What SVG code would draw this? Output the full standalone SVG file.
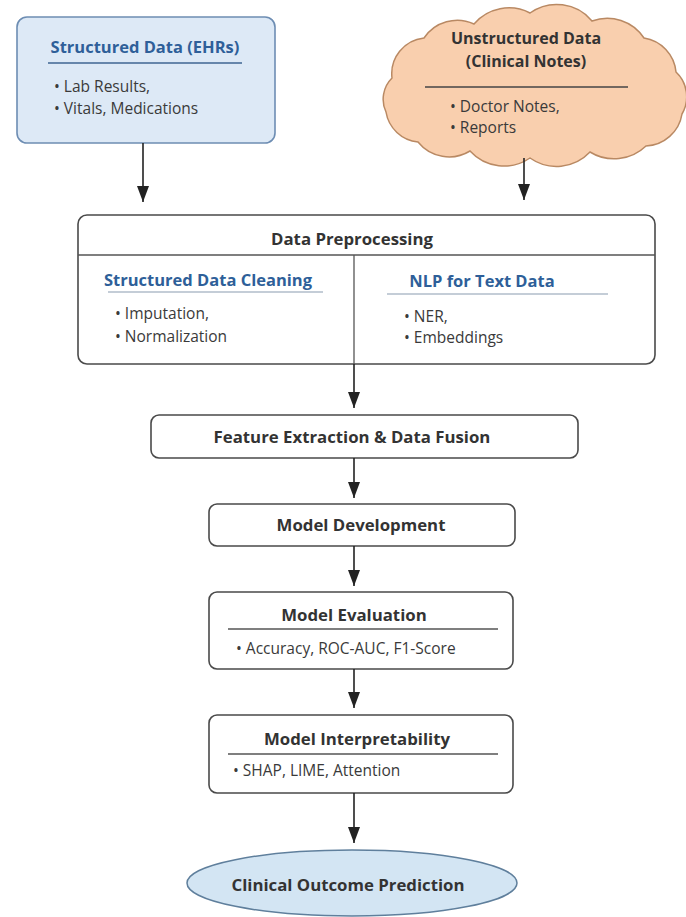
<svg xmlns="http://www.w3.org/2000/svg" width="686" height="917" viewBox="0 0 686 917">
<defs>
<marker id="ah" viewBox="0 0 16 12" refX="16" refY="6" markerWidth="16" markerHeight="12" markerUnits="userSpaceOnUse" orient="auto">
<path d="M0,0 L16,6 L0,12 Z" fill="#222"/>
</marker>
</defs>
<style>
text{font-family:"Open Sans","Noto Sans","DejaVu Sans",sans-serif;fill:#333}
.t{font-weight:bold;font-size:16.8px}
.tc{font-weight:bold;font-size:16px}
.tb{font-weight:bold;font-size:16.5px;fill:#2e5f99}
.b{font-size:15.5px;fill:#3a3a3a}
.box{fill:#fff;stroke:#4a4a4a;stroke-width:1.6}
.ln{stroke:#555;stroke-width:1.3}
.con{stroke:#222;stroke-width:1.6;fill:none;marker-end:url(#ah)}
</style>
<rect width="686" height="917" fill="#fff"/>

<g id="structured">
<rect x="17" y="17" width="258" height="126" rx="10" fill="#dde9f6" stroke="#6d8db3" stroke-width="1.6"/>
<text class="tb" x="145" y="53" text-anchor="middle">Structured Data (EHRs)</text>
<line x1="48" y1="63" x2="242" y2="63" stroke="#3e6592" stroke-width="1.6"/>
<text class="b" x="54" y="92">• Lab Results,</text>
<text class="b" x="54" y="114">• Vitals, Medications</text>
</g>

<g id="unstructured">
<path d="M392,78 A36,36 0 0 1 424,38 A40,40 0 0 1 474,24 A46,46 0 0 1 530,13 A46,46 0 0 1 592,21 A44,44 0 0 1 644,38 A38,38 0 0 1 676,72 A34,34 0 0 1 682,114 A38,38 0 0 1 646,146 A46,46 0 0 1 590,152 A46,46 0 0 1 530,158 A46,46 0 0 1 470,151 A40,40 0 0 1 418,142 A36,36 0 0 1 386,112 A30,30 0 0 1 392,78 Z" fill="#f9cfae" stroke="#b98963" stroke-width="1.5"/>
<text class="tc" x="526" y="44" text-anchor="middle">Unstructured Data</text>
<text class="tc" x="526" y="67" text-anchor="middle">(Clinical Notes)</text>
<line x1="425" y1="87" x2="628" y2="87" stroke="#444" stroke-width="1.4"/>
<text class="b" x="450" y="112">• Doctor Notes,</text>
<text class="b" x="450" y="133">• Reports</text>
</g>

<g id="preprocessing">
<rect class="box" x="78" y="215" width="577" height="149" rx="9"/>
<line class="ln" x1="78" y1="255" x2="655" y2="255"/>
<line class="ln" x1="354" y1="255" x2="354" y2="364"/>
<text class="t" x="352" y="245" text-anchor="middle">Data Preprocessing</text>
<text class="tb" x="208" y="286" text-anchor="middle">Structured Data Cleaning</text>
<line x1="108" y1="292" x2="323" y2="292" stroke="#8a9bb0" stroke-width="1.2"/>
<text class="b" x="115" y="319">• Imputation,</text>
<text class="b" x="115" y="342">• Normalization</text>
<text class="tb" x="482" y="287" text-anchor="middle">NLP for Text Data</text>
<line x1="387" y1="294" x2="608" y2="294" stroke="#8a9bb0" stroke-width="1.2"/>
<text class="b" x="404" y="322">• NER,</text>
<text class="b" x="404" y="343">• Embeddings</text>
</g>

<g id="feature">
<rect class="box" x="151" y="415" width="427" height="43" rx="8"/>
<text class="t" x="352" y="443" text-anchor="middle">Feature Extraction &amp; Data Fusion</text>
</g>

<g id="development">
<rect class="box" x="209" y="504" width="306" height="42" rx="8"/>
<text class="t" x="361" y="531" text-anchor="middle">Model Development</text>
</g>

<g id="evaluation">
<rect class="box" x="209" y="592" width="304" height="77" rx="8"/>
<text class="t" x="354" y="621" text-anchor="middle">Model Evaluation</text>
<line class="ln" x1="228" y1="629" x2="498" y2="629"/>
<text class="b" x="236" y="654">• Accuracy, ROC-AUC, F1-Score</text>
</g>

<g id="interpretability">
<rect class="box" x="209" y="715" width="304" height="78" rx="8"/>
<text class="t" x="357" y="745" text-anchor="middle">Model Interpretability</text>
<line class="ln" x1="228" y1="754" x2="498" y2="754"/>
<text class="b" x="233" y="776">• SHAP, LIME, Attention</text>
</g>

<g id="prediction">
<ellipse cx="352" cy="883" rx="165" ry="33" fill="#d3e5f3" stroke="#5f7f9c" stroke-width="1.5"/>
<text class="t" x="348" y="891" text-anchor="middle">Clinical Outcome Prediction</text>
</g>

<g id="connectors">
<line class="con" x1="143" y1="143" x2="143" y2="202"/>
<line class="con" x1="524" y1="158" x2="524" y2="200"/>
<line class="con" x1="354" y1="364" x2="354" y2="408"/>
<line class="con" x1="354" y1="458" x2="354" y2="498"/>
<line class="con" x1="354" y1="546" x2="354" y2="586"/>
<line class="con" x1="354" y1="669" x2="354" y2="708"/>
<line class="con" x1="354" y1="793" x2="354" y2="843"/>
</g>
</svg>
